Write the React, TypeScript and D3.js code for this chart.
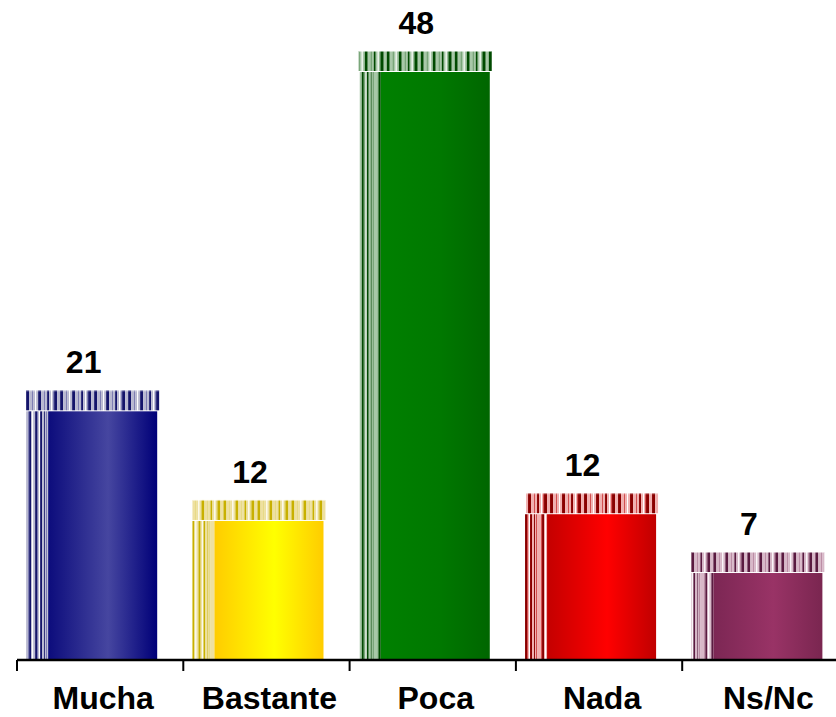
import React from "react";
import * as d3 from "d3";

const categories = ["Mucha", "Bastante", "Poca", "Nada", "Ns/Nc"];
const values = [20.3, 11.35, 48, 11.9, 7.1];
const valueLabels = ["21", "12", "48", "12", "7"];

const bodyEdge = ["#0c0c7c", "#ffcc00", "#008000", "#c40000", "#7c2754"];
const bodyMid = ["#4646a0", "#ffff00", "#007800", "#ff0000", "#993366"];
const bodyEnd = ["#000078", "#ffcc00", "#006600", "#c00000", "#7a2650"];
const stripeDark = ["#14146a", "#c8b000", "#004a00", "#8a0000", "#5a1a40"];
const stripeMid = ["#6a6aa8", "#dcc84a", "#3a7a3a", "#d04848", "#a06080"];
const stripeLight = ["#b8b8d0", "#eee0a0", "#a8c8a8", "#f0b0b0", "#d8b8c8"];

const W = 836;
const H = 717;
const baseY = 660;
const axisX0 = 17;
const step = 166.3;

const capPattern = "DDDLLLMLLWLLDDDLLLMLLDDLLWLMDDDLLL";
const sidePattern = "LLMDDLWLLDDMLWDDLLDLMLL";

function stripeRects(x0: number, y0: number, width: number, height: number, pattern: string, i: number, key: string) {
  const out: React.ReactNode[] = [];
  const colorOf = (c: string) =>
    c === "D" ? stripeDark[i] : c === "M" ? stripeMid[i] : c === "W" ? "#ffffff" : stripeLight[i];
  let start = 0;
  const n = Math.floor(width);
  for (let p = 1; p <= n; p++) {
    const cur = pattern[(start + i * 3) % pattern.length];
    const nxt = p < n ? pattern[(p + i * 3) % pattern.length] : "";
    if (nxt !== cur) {
      out.push(
        <rect key={key + p} x={x0 + start} y={y0} width={p - start} height={height} fill={colorOf(cur)} />
      );
      start = p;
    }
  }
  return out;
}

export default function App() {
  const x = d3.scaleBand<string>().domain(categories).range([axisX0, axisX0 + step * categories.length]).padding(0);
  const y = d3.scaleLinear().domain([0, 50]).range([baseY, baseY - 50 * 12.25]);
  const bw = x.bandwidth();
  const barOff = bw * 0.055;
  const barW = bw * 0.788;
  const sideW = 22;
  const capH = 20;
  const font = "'Liberation Sans', Arial, sans-serif";

  return (
    <svg width={W} height={H} style={{ position: "absolute", left: 0, top: 0 }}>
      <defs>
        {categories.map((c, i) => (
          <linearGradient key={c} id={`g${i}`} x1="0" x2="1" y1="0" y2="0">
            <stop offset="0%" stopColor={bodyEdge[i]} />
            <stop offset="55%" stopColor={bodyMid[i]} />
            <stop offset="100%" stopColor={bodyEnd[i]} />
          </linearGradient>
        ))}
      </defs>
      <rect width={W} height={H} fill="#ffffff" />
      {categories.map((c, i) => {
        const bx = (x(c) as number) + barOff;
        const top = y(values[i]);
        const capTop = top - capH - 1;
        return (
          <g key={c}>
            {stripeRects(bx, top, sideW, baseY - top, sidePattern, i, "s")}
            <rect x={bx + sideW} y={top} width={barW - sideW} height={baseY - top} fill={`url(#g${i})`} />
            {stripeRects(bx, capTop, barW + 2, capH, capPattern, i, "c")}
            <rect x={bx} y={capTop} width={barW + 2} height={1} fill="#ffffff" opacity={0.5} />
            <text
              x={bx + barW / 2 - 8}
              y={capTop - 17}
              textAnchor="middle"
              fontFamily={font}
              fontWeight="bold"
              fontSize={32}
              fill="#000"
            >
              {valueLabels[i]}
            </text>
          </g>
        );
      })}
      <line x1={axisX0} x2={W} y1={baseY} y2={baseY} stroke="#000" strokeWidth={2.5} />
      {categories.map((c) => (
        <line key={c} x1={x(c) as number} x2={x(c) as number} y1={baseY} y2={baseY + 11} stroke="#000" strokeWidth={2} />
      ))}
      {categories.map((c) => (
        <text
          key={c}
          x={(x(c) as number) + bw / 2 + 3}
          y={709}
          textAnchor="middle"
          fontFamily={font}
          fontWeight="bold"
          fontSize={32}
          fill="#000"
        >
          {c}
        </text>
      ))}
    </svg>
  );
}
